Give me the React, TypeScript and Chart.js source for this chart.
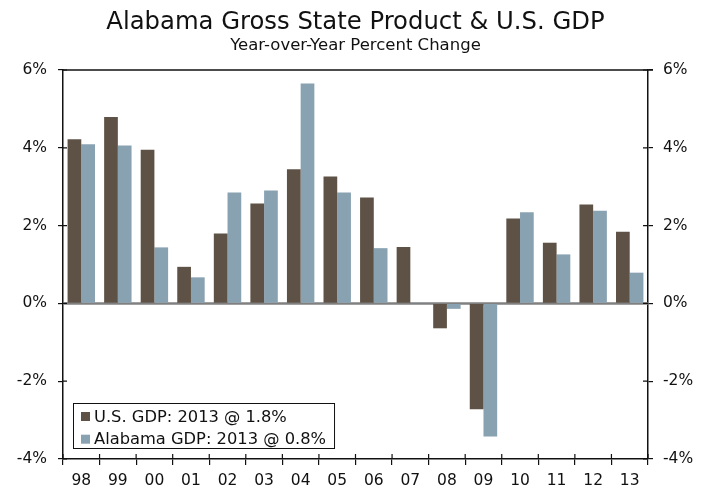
import React, { useEffect, useRef } from "react";
import { Chart, registerables } from "chart.js";

Chart.register(...registerables);

const title = "Alabama Gross State Product & U.S. GDP";
const subtitle = "Year-over-Year Percent Change";
const categories = ["98", "99", "00", "01", "02", "03", "04", "05", "06", "07", "08", "09", "10", "11", "12", "13"];
const usGdp = [4.22, 4.79, 3.95, 0.94, 1.8, 2.57, 3.45, 3.26, 2.72, 1.45, -0.64, -2.72, 2.18, 1.56, 2.54, 1.84];
const alabamaGdp = [4.09, 4.06, 1.44, 0.67, 2.85, 2.9, 5.65, 2.85, 1.42, 0.02, -0.14, -3.42, 2.34, 1.26, 2.38, 0.79];
const seriesLabels = ["U.S. GDP: 2013 @ 1.8%", "Alabama GDP: 2013 @ 0.8%"];
const seriesColors = ["#5E5246", "#89A2B2"];
const yMin = -4;
const yMax = 6;
const yStep = 2;

const FONT = "'DejaVu Sans', Verdana, sans-serif";

const decorPlugin = {
  id: "decor",
  beforeDatasetsDraw(chart: any) {
    const { ctx, chartArea } = chart;
    const y = chart.scales.y;
    const y0 = y.getPixelForValue(0);
    ctx.save();
    ctx.strokeStyle = "#808080";
    ctx.lineWidth = 2.5;
    ctx.beginPath();
    ctx.moveTo(chartArea.left, y0);
    ctx.lineTo(chartArea.right, y0);
    ctx.stroke();
    ctx.restore();
  },
  afterDraw(chart: any) {
    const { ctx, chartArea } = chart;
    const x = chart.scales.x;
    const y = chart.scales.y;
    ctx.save();
    // top border
    ctx.strokeStyle = "#111";
    ctx.lineWidth = 1.5;
    ctx.beginPath();
    ctx.moveTo(chartArea.left, chartArea.top);
    ctx.lineTo(chartArea.right + 5, chartArea.top);
    ctx.stroke();
    // inward tick stubs
    ctx.lineWidth = 1.2;
    ctx.beginPath();
    for (let v = yMin; v <= yMax; v += yStep) {
      const py = y.getPixelForValue(v);
      ctx.moveTo(chartArea.left, py);
      ctx.lineTo(chartArea.left + 4, py);
      ctx.moveTo(chartArea.right - 5, py);
      ctx.lineTo(chartArea.right, py);
    }
    for (let i = 0; i <= categories.length; i++) {
      const px = x.getPixelForValue(i - 0.5);
      ctx.moveTo(px, chartArea.bottom);
      ctx.lineTo(px, chartArea.bottom - 5);
    }
    ctx.stroke();

    // title
    const cx = (chartArea.left + chartArea.right) / 2;
    ctx.fillStyle = "#111";
    ctx.textAlign = "center";
    ctx.textBaseline = "alphabetic";
    ctx.font = `24.3px ${FONT}`;
    ctx.fillText(title, cx, 29);
    ctx.font = `16.5px ${FONT}`;
    ctx.fillText(subtitle, cx, 49.5);

    // legend
    ctx.font = `16.3px ${FONT}`;
    ctx.textAlign = "left";
    const widths = seriesLabels.map((l) => ctx.measureText(l).width);
    const boxLeft = chartArea.left + 10;
    const boxTop = 403;
    const boxW = 22 + Math.max(...widths) + 7;
    const boxH = 45;
    ctx.strokeStyle = "#111";
    ctx.lineWidth = 1;
    ctx.strokeRect(boxLeft + 0.5, boxTop + 0.5, boxW, boxH);
    chart.data.datasets.forEach((ds: any, i: number) => {
      const base = 421.5 + i * 22.7;
      ctx.fillStyle = ds.backgroundColor;
      ctx.fillRect(boxLeft + 8, base - 9.5, 9, 9);
      ctx.fillStyle = "#111";
      ctx.fillText(ds.label, boxLeft + 21, base);
    });
    ctx.restore();
  },
};

export default function App() {
  const ref = useRef<HTMLCanvasElement>(null);
  useEffect(() => {
    document.body.style.margin = "0";
    const tickFont = { family: FONT, size: 15.5 };
    const yAxis = (position: string, width: number) => ({
      position,
      min: yMin,
      max: yMax,
      ticks: {
        stepSize: yStep,
        color: "#111",
        font: tickFont,
        padding: position === "left" ? 11 : 10,
        callback: (v: any) => `${v}%`,
      },
      grid: { drawOnChartArea: false, drawTicks: true, tickLength: 5, color: "#111", lineWidth: 1.2 },
      border: { display: true, color: "#111", width: 1.5 },
      afterFit: (s: any) => {
        s.width = width;
      },
    });
    const chart = new Chart(ref.current!, {
      type: "bar",
      data: {
        labels: categories,
        datasets: [
          { label: seriesLabels[0], data: usGdp, backgroundColor: seriesColors[0], yAxisID: "y" },
          { label: seriesLabels[1], data: alabamaGdp, backgroundColor: seriesColors[1], yAxisID: "y" },
        ],
      },
      plugins: [decorPlugin],
      options: {
        responsive: false,
        animation: false,
        layout: { padding: { top: 70, left: 0, right: 0, bottom: 0 } },
        datasets: { bar: { categoryPercentage: 0.75, barPercentage: 1 } },
        plugins: { legend: { display: false }, title: { display: false }, tooltip: { enabled: false } },
        scales: {
          x: {
            type: "category",
            offset: true,
            ticks: { color: "#111", font: tickFont, padding: 7, maxRotation: 0 },
            grid: { offset: true, drawOnChartArea: false, drawTicks: true, tickLength: 6, color: "#111", lineWidth: 1.2 },
            border: { display: true, color: "#111", width: 1.5 },
            afterFit: (s: any) => {
              s.height = 32;
            },
          },
          y: yAxis("left", 63) as any,
          y2: yAxis("right", 64) as any,
        },
      },
    });
    return () => chart.destroy();
  }, []);
  return (
    <div style={{ position: "absolute", left: 0, top: 0, width: 712, height: 491, background: "#fff" }}>
      <canvas ref={ref} width={712} height={491} />
    </div>
  );
}
